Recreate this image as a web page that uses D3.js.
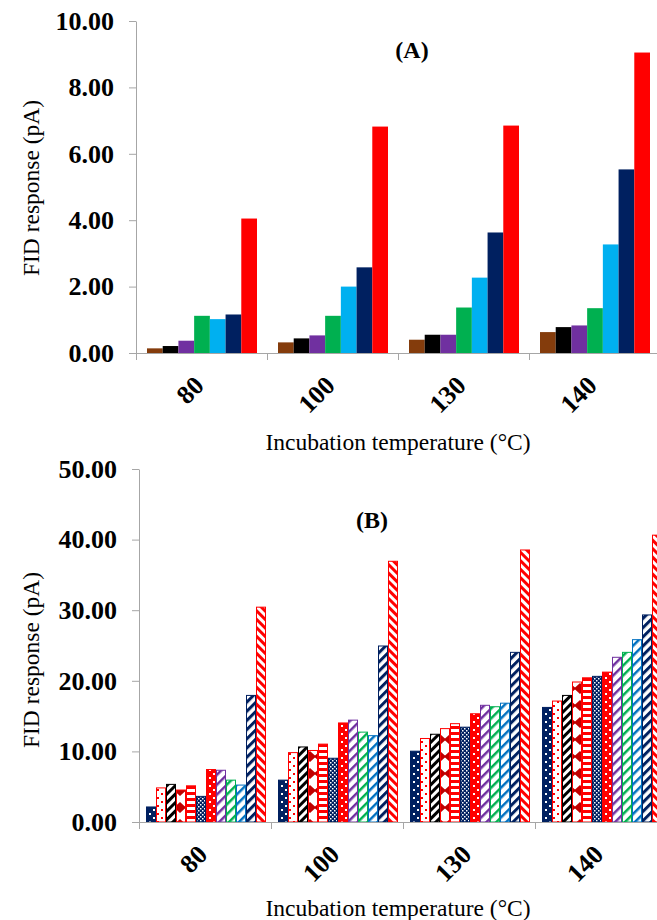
<!DOCTYPE html>
<html>
<head>
<meta charset="utf-8">
<script src="https://cdn.jsdelivr.net/npm/d3@7/dist/d3.min.js"></script>
<style>
  body { margin: 0; background: #fff; }
  svg { display: block; font-family: "Liberation Serif", "Times New Roman", serif; }
</style>
</head>
<body>
<svg id="chart" width="657" height="920"></svg>
<script>
// categories (incubation temperature, °C)
const temps = ["80", "100", "130", "140"];

// panel A series (FID response, pA)
const a1 = [0.14, 0.32, 0.40, 0.63];
const a2 = [0.21, 0.44, 0.55, 0.78];
const a3 = [0.37, 0.53, 0.55, 0.83];
const a4 = [1.12, 1.12, 1.37, 1.35];
const a5 = [1.02, 2.00, 2.27, 3.27];
const a6 = [1.16, 2.58, 3.63, 5.53];
const a7 = [4.05, 6.82, 6.85, 9.05];
const ticksA = [0, 2, 4, 6, 8, 10];

// panel B series (FID response, pA)
const b1 = [2.2, 6.0, 10.1, 16.3];
const b2 = [4.9, 9.9, 11.9, 17.2];
const b3 = [5.4, 10.7, 12.5, 18.0];
const b4 = [4.6, 10.2, 13.3, 19.9];
const b5 = [5.2, 11.1, 14.0, 20.5];
const b6 = [3.7, 9.1, 13.5, 20.7];
const b7 = [7.5, 14.1, 15.4, 21.3];
const b8 = [7.4, 14.5, 16.6, 23.4];
const b9 = [6.0, 12.8, 16.4, 24.1];
const b10 = [5.3, 12.3, 16.9, 25.9];
const b11 = [18.0, 25.0, 24.1, 29.4];
const b12 = [30.5, 37.0, 38.6, 40.7];
const ticksB = [0, 10, 20, 30, 40, 50];

const seriesA = [a1, a2, a3, a4, a5, a6, a7];
const colorsA = ["#843c0c", "#000000", "#7030a0", "#00b050", "#00b0f0", "#002060", "#ff0000"];

const seriesB = [b1, b2, b3, b4, b5, b6, b7, b8, b9, b10, b11, b12];
const strokesB = ["#002060", "#ff0000", "#000000", "#ff0000", "#ff0000", "#002060",
                  "#ff0000", "#7030a0", "#00b050", "#0070c0", "#002060", "#ff0000"];

const svg = d3.select("#chart");
const axisColor = "#a6a6a6";
const serif = "Liberation Serif, Times New Roman, serif";

// ---- patterns for panel B ----
const defs = svg.append("defs");

function dotPattern(id, bg, fg, size) {
    const p = defs.append("pattern").attr("id", id)
        .attr("patternUnits", "userSpaceOnUse").attr("width", size).attr("height", size);
    p.append("rect").attr("width", size).attr("height", size).attr("fill", bg);
    p.append("rect").attr("x", 1).attr("y", 1).attr("width", 2).attr("height", 2).attr("fill", fg);
    p.append("rect").attr("x", size / 2 + 1).attr("y", size / 2 + 1).attr("width", 2).attr("height", 2).attr("fill", fg);
}
function stripePattern(id, fg, period, thick, angle) {
    const p = defs.append("pattern").attr("id", id)
        .attr("patternUnits", "userSpaceOnUse").attr("width", period).attr("height", period)
        .attr("patternTransform", `rotate(${angle})`);
    p.append("rect").attr("width", period).attr("height", period).attr("fill", "#fff");
    p.append("rect").attr("width", thick).attr("height", period).attr("fill", fg);
}

dotPattern("p1", "#002060", "#fff", 8);
dotPattern("p2", "#fff", "#ff0000", 8);
stripePattern("p3", "#000", 6, 3, 45);
// bow-tie shapes
(function() {
    const p = defs.append("pattern").attr("id", "p4")
        .attr("patternUnits", "userSpaceOnUse").attr("width", 10).attr("height", 17);
    p.append("rect").attr("width", 10).attr("height", 17).attr("fill", "#fff");
    p.append("path").attr("d", "M0,3 L6,8.5 L0,14 Z M10,3 L4,8.5 L10,14 Z").attr("fill", "#c00000");
    p.append("rect").attr("x", 0).attr("y", 7.5).attr("width", 10).attr("height", 2).attr("fill", "#c00000");
})();
// horizontal stripes
(function() {
    const p = defs.append("pattern").attr("id", "p5")
        .attr("patternUnits", "userSpaceOnUse").attr("width", 6).attr("height", 6);
    p.append("rect").attr("width", 6).attr("height", 6).attr("fill", "#fff");
    p.append("rect").attr("width", 6).attr("height", 3).attr("fill", "#ff0000");
})();
// small checker
(function() {
    const p = defs.append("pattern").attr("id", "p6")
        .attr("patternUnits", "userSpaceOnUse").attr("width", 4).attr("height", 4);
    p.append("rect").attr("width", 4).attr("height", 4).attr("fill", "#002060");
    p.append("rect").attr("x", 0).attr("y", 0).attr("width", 1.5).attr("height", 1.5).attr("fill", "#fff");
    p.append("rect").attr("x", 2).attr("y", 2).attr("width", 1.5).attr("height", 1.5).attr("fill", "#fff");
})();
dotPattern("p7", "#ff0000", "#fff", 8);
stripePattern("p8", "#7030a0", 7, 2.5, 45);
stripePattern("p9", "#00b050", 7, 2.5, 45);
stripePattern("p10", "#0070c0", 7, 2.5, 45);
stripePattern("p11", "#002060", 6.5, 3, 45);
stripePattern("p12", "#ff0000", 6, 3, -45);

// ---- shared panel builder ----
function drawPanel(cfg) {
    const g = svg.append("g");
    const y = d3.scaleLinear().domain([cfg.ticks[0], cfg.ticks[cfg.ticks.length - 1]]).range([cfg.y0, cfg.y1]);
    const x0 = d3.scaleBand().domain(temps).range([cfg.x0, cfg.x0 + cfg.step * temps.length]);
    const x1 = d3.scaleBand().domain(d3.range(cfg.series.length)).range([cfg.gapL, cfg.step - cfg.gapR]);
    const xb = d3.scaleLinear().domain([0, temps.length]).range([cfg.x0, cfg.x0 + cfg.step * temps.length]);

    // bars
    cfg.series.forEach((vals, si) => {
        g.append("g").selectAll("rect")
            .data(vals)
            .enter()
            .append("rect")
                .attr("x", (d, i) => x0(temps[i]) + x1(si) + (cfg.stroke ? 0.5 : 0))
                .attr("y", d => y(d) + (cfg.stroke ? 0.5 : 0))
                .attr("width", x1.bandwidth() - (cfg.stroke ? 1 : 0))
                .attr("height", d => cfg.y0 - y(d) - (cfg.stroke ? 0.5 : 0))
                .attr("fill", cfg.fills[si])
                .attr("stroke", cfg.stroke ? cfg.stroke[si] : "none")
                .attr("stroke-width", 1);
    });

    // y axis
    const ya = g.append("g")
        .attr("transform", `translate(${cfg.x0},0)`)
        .call(d3.axisLeft(y).tickValues(cfg.ticks).tickFormat(d3.format(".2f")).tickSize(7).tickPadding(15).tickSizeOuter(0));
    ya.select(".domain").attr("stroke", axisColor);
    ya.selectAll(".tick line").attr("stroke", axisColor);
    ya.selectAll(".tick text")
        .attr("font-family", serif)
        .attr("font-size", 26).attr("font-weight", "bold").attr("fill", "#000");

    // x axis (ticks at category boundaries)
    const xa = g.append("g")
        .attr("transform", `translate(0,${cfg.y0})`)
        .call(d3.axisBottom(xb).tickValues(d3.range(temps.length + 1)).tickFormat("").tickSize(7).tickSizeOuter(0));
    xa.select(".domain").attr("stroke", axisColor);
    xa.selectAll(".tick line").attr("stroke", axisColor);

    // category labels
    g.append("g").selectAll("text")
        .data(temps)
        .enter()
        .append("text")
            .attr("transform", d => `translate(${x0(d) + x0.bandwidth() / 2 + 4},${cfg.y0 + 34}) rotate(-45)`)
            .attr("text-anchor", "end")
            .attr("font-size", 26).attr("font-weight", "bold")
            .text(d => d);

    // panel letter
    g.append("text")
        .attr("x", cfg.letterX).attr("y", cfg.letterY)
        .attr("text-anchor", "middle")
        .attr("font-size", 24).attr("font-weight", "bold")
        .text(cfg.letter);

    // axis titles
    g.append("text")
        .attr("transform", `translate(39,${cfg.yTitleY}) rotate(-90)`)
        .attr("text-anchor", "middle")
        .attr("font-size", 23.5)
        .text("FID response (pA)");
    g.append("text")
        .attr("x", 398).attr("y", cfg.xTitleY)
        .attr("text-anchor", "middle")
        .attr("font-size", 23.5)
        .text("Incubation temperature (°C)");
}

drawPanel({
    series: seriesA, fills: colorsA, stroke: null, ticks: ticksA,
    x0: 136, step: 131, y0: 353, y1: 21, gapL: 11, gapR: 10,
    letter: "(A)", letterX: 412, letterY: 58, yTitleY: 188, xTitleY: 450
});

drawPanel({
    series: seriesB, fills: seriesB.map((s, i) => `url(#p${i + 1})`), stroke: strokesB, ticks: ticksB,
    x0: 139, step: 132, y0: 822, y1: 469, gapL: 7, gapR: 5,
    letter: "(B)", letterX: 372, letterY: 528, yTitleY: 660, xTitleY: 916
});
</script>
</body>
</html>
